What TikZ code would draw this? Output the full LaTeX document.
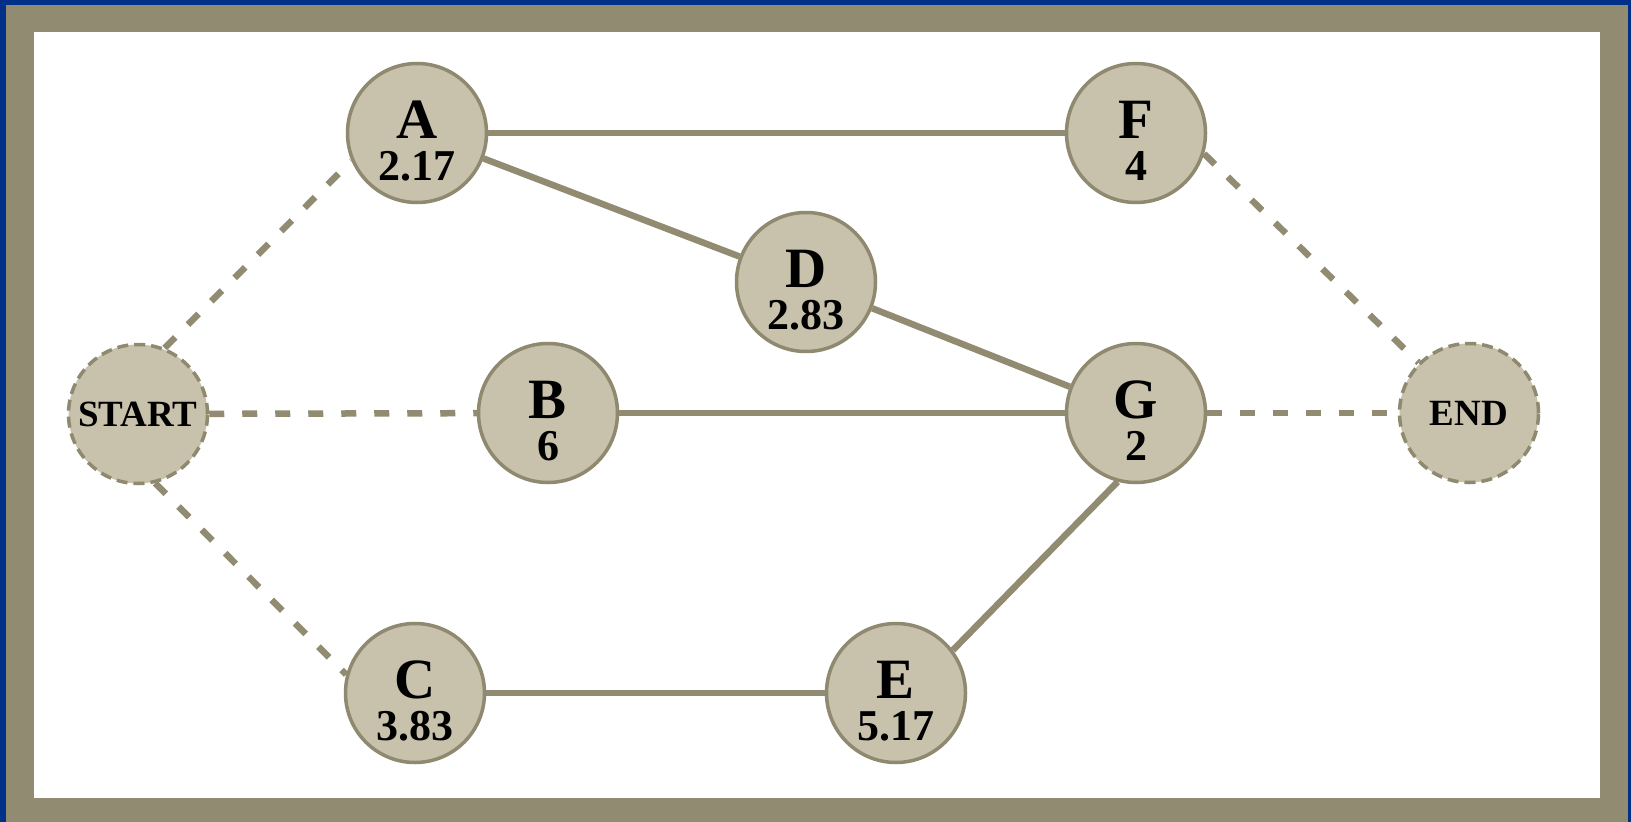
\documentclass[tikz,border=0pt]{standalone}
\usepackage{fontspec}
\setmainfont{Liberation Serif}
\usetikzlibrary{positioning}
\definecolor{bgblue}{RGB}{0,48,135}
\definecolor{frametan}{RGB}{145,139,113}
\definecolor{nodefill}{RGB}{200,194,172}
\definecolor{nodeline}{RGB}{143,137,112}

\begin{document}
\begin{tikzpicture}[x=1pt,y=-1pt,auto,node distance=280pt,
    main node/.style={circle,draw=nodeline,fill=nodefill,line width=3.5pt,minimum size=139pt,inner sep=0pt,
      align=center,text height=94pt,text depth=0pt,font=\bfseries\fontsize{44}{42}\selectfont},
    term node/.style={circle,draw=nodeline,fill=nodefill,line width=3.5pt,minimum size=139pt,inner sep=0pt,
      dash pattern=on 11pt off 6pt,font=\bfseries\fontsize{37}{37}\selectfont},
    link/.style={draw=frametan,line width=6.5pt},
    dash link/.style={link,dash pattern=on 15pt off 18pt}]

  % frame
  \fill[bgblue] (0,0) rectangle (1631,822);
  \fill[frametan] (6,5) rectangle (1628,822);
  \fill[white] (34,32) rectangle (1600,798);

  \node[term node] (start) at (138,414) {START};
  \node[main node] (a) at (417,133) {{\fontsize{57}{57}\selectfont A}\\2.17};
  \node[main node] (f) at (1136,133) {{\fontsize{57}{57}\selectfont F}\\4};
  \node[main node] (d) at (806,282) {{\fontsize{57}{57}\selectfont D}\\2.83};
  \node[main node] (b) at (548,413) {{\fontsize{57}{57}\selectfont B}\\6};
  \node[main node] (g) [below of=f] {{\fontsize{57}{57}\selectfont G}\\2};
  \node[main node] (c) at (415,693) {{\fontsize{57}{57}\selectfont C}\\3.83};
  \node[main node] (e) at (896,693) {{\fontsize{57}{57}\selectfont E}\\5.17};
  \node[term node] (finish) at (1469,413) {END};

  \path
    (a) edge[link] (f)
    (a) edge[link] (d)
    (d) edge[link] (g)
    (b) edge[link] (g)
    (c) edge[link] (e)
    (g.255) edge[link] (e.37)
    (start.68) edge[dash link] (a.203)
    (start) edge[dash link] (b)
    (start.284) edge[dash link] (c.165)
    (f.343) edge[dash link] (finish.135)
    (g) edge[dash link] (finish)
  ;
\end{tikzpicture}
\end{document}
